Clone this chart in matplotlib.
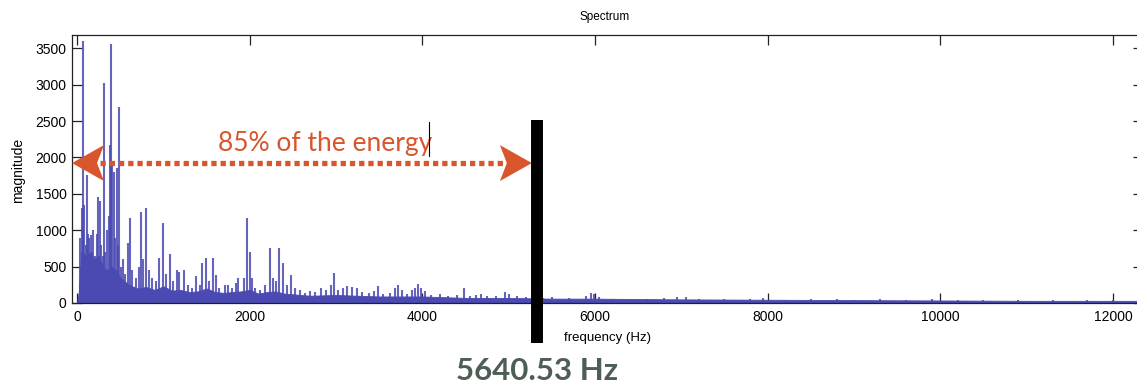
import matplotlib
matplotlib.use("Agg")
import matplotlib.pyplot as plt
from matplotlib.patches import Polygon
from matplotlib.transforms import Affine2D, ScaledTranslation

# ---------------- data ----------------
floor_freq = [0, 20, 50, 100, 150, 200, 250, 300, 350, 400, 450, 500, 550, 600,
              700, 800, 900, 1000, 1100, 1200, 1300, 1400, 1500, 1600, 1700,
              1800, 1900, 2000, 2100, 2200, 2300, 2400, 2500, 2700, 3000,
              3500, 4000, 4500, 5000, 5500, 6000, 7000, 8000, 9000, 10000,
              11000, 12000, 12350]
floor_mag = [0, 150, 700, 650, 700, 600, 650, 500, 450, 500, 450, 350, 300, 250,
             200, 220, 180, 230, 170, 180, 150, 160, 200, 150, 140,
             150, 160, 180, 130, 150, 160, 130, 120, 100, 110,
             90, 90, 70, 70, 60, 60, 50, 45, 40, 35,
             30, 30, 30]

peak_freq = [40, 55, 66, 75, 85, 100, 112, 125, 140, 158, 175, 190, 210, 230,
             247, 262, 280, 298, 313, 330, 350, 370, 382, 397, 410, 425, 440,
             460, 475, 490, 510, 530, 560, 590, 614, 640, 680, 720, 741, 765,
             799, 830, 870, 920, 950, 992, 1030, 1077, 1110, 1154, 1184, 1239,
             1280, 1330, 1378, 1420, 1451, 1490, 1530, 1579, 1610, 1650, 1714,
             1752, 1800, 1840, 1868, 1934, 1972, 2000, 2030, 2066, 2120, 2180,
             2235, 2270, 2310, 2343, 2390, 2430, 2478, 2520, 2580, 2640, 2700,
             2760, 2830, 2880, 2940, 2976, 3020, 3080, 3130, 3180, 3240, 3300,
             3380, 3440, 3485, 3550, 3620, 3680, 3717, 3760, 3820, 3880, 3920,
             3949, 3990, 4030, 4100, 4200, 4300, 4400, 4481, 4550, 4620, 4680,
             4750, 4850, 4956, 5000, 5100, 5200, 5300, 5400, 5500, 5600, 5700,
             5800, 5900, 5950, 5990, 6050, 6200, 6400, 6600, 6800, 6950, 7050,
             7200, 7500, 7800, 7950, 8200, 8500, 8800, 9000, 9300, 9600, 9900,
             10200, 10500, 10900, 11300, 11700, 12000]
peak_mag = [900, 1300, 3600, 1000, 1350, 800, 1760, 950, 900, 935, 700, 1000,
            650, 950, 1460, 1400, 800, 650, 3020, 700, 1000, 1200, 2170, 3555,
            1900, 1800, 900, 1855, 800, 2700, 500, 600, 400, 820, 1170, 450,
            350, 500, 1255, 600, 1310, 450, 350, 300, 620, 1100, 400, 670, 300,
            450, 420, 450, 250, 200, 365, 250, 550, 615, 300, 615, 380, 200,
            250, 250, 200, 270, 340, 340, 1165, 700, 350, 200, 180, 250, 755,
            350, 300, 755, 545, 250, 385, 200, 180, 140, 160, 150, 200, 180,
            250, 408, 180, 205, 230, 215, 200, 150, 140, 160, 240, 130, 140,
            200, 245, 180, 120, 180, 210, 260, 200, 170, 110, 120, 100, 110,
            210, 100, 110, 120, 90, 100, 150, 130, 90, 80, 90, 70, 80, 60, 70,
            60, 100, 140, 130, 80, 60, 60, 55, 65, 85, 80, 50, 55, 50, 70, 45,
            50, 50, 40, 55, 45, 50, 45, 40, 40, 35, 35, 40]

x_ticks = [0, 2000, 4000, 6000, 8000, 10000, 12000]
y_ticks = [0, 500, 1000, 1500, 2000, 2500, 3000, 3500]

cutoff_freq = 5327          # drawn position of the 85 % energy line
cutoff_label = "5640.53 Hz"
arrow_level = 1923
annot_text = "85% of the energy"

# ---------------- styling ----------------
BLUE = "#4a4ab2"
ORANGE = "#d9552b"
LABEL_GREEN = "#4e5e55"

plt.rcParams['font.family'] = ['Liberation Sans', 'DejaVu Sans']

fig = plt.figure(figsize=(11.37, 3.83), dpi=100)
W, H = 1137, 383
ax = fig.add_axes([72 / W, 80 / H, (1143 - 72) / W, 268 / H])

ax.fill_between(floor_freq, 0, floor_mag, color=BLUE, lw=0.6, zorder=2)
ax.vlines(peak_freq, 0, peak_mag, color=BLUE, lw=1.5, alpha=0.85, zorder=2)

ax.set_xlim(-58, 12348)
ax.set_ylim(0, 3683)
ax.set_xticks(x_ticks)
ax.set_yticks(y_ticks)
ax.tick_params(direction='in', top=True, right=True, length=7.2, width=0.9,
               labelsize=10, color='#222222', pad=4)
ax.tick_params(axis='x', pad=5)
for s in ax.spines.values():
    s.set_linewidth(0.9)
    s.set_color('#222222')

fig.text(605 / W, 1 - 17 / H, "Spectrum", ha='center', va='center', fontsize=8.5)
fig.text(608 / W, 1 - 338 / H, "frequency (Hz)", ha='center', va='center', fontsize=9.5)
fig.text(18 / W, 1 - 170 / H, "magnitude", ha='center', va='center',
         fontsize=10, rotation=90)

# black cutoff bar, extends below the axes
ax.plot([cutoff_freq, cutoff_freq], [-0.149, 0.683], color='black', lw=8.6,
        solid_capstyle='butt', transform=ax.get_xaxis_transform(),
        clip_on=False, zorder=6)

# dotted double arrow
xl = ax.get_xlim()[0]
px_hz = (12000 - 0) / (1113 - 77)
ax.plot([xl + 28 * px_hz, cutoff_freq - 26 * px_hz], [arrow_level, arrow_level],
        color=ORANGE, lw=3.8, dashes=(1.0, 0.75), dash_capstyle='butt',
        solid_capstyle='butt', zorder=5)


def head(xtip, ytip, direction):
    d = direction
    verts = [(0, 0), (d * 32, 18), (d * 25, 0), (d * 32, -18)]
    tr = Affine2D() + ScaledTranslation(xtip, ytip, ax.transData)
    p = Polygon(verts, closed=True, transform=tr, facecolor=ORANGE,
                edgecolor='none', zorder=5, clip_on=False)
    ax.add_patch(p)


head(xl, arrow_level, 1)
head(cutoff_freq - 5 * px_hz, arrow_level, -1)

ax.text(1633, 2090, annot_text, color=ORANGE, fontsize=19,
        family=['Lato', 'DejaVu Sans'], ha='left', va='baseline', zorder=5)
ax.plot([4076, 4076], [2020, 2487], color='black', lw=0.8, zorder=5)

fig.text(537 / W, 1 - 371 / H, cutoff_label, ha='center', va='center',
         fontsize=22.5, fontweight='bold', color=LABEL_GREEN,
         family=['Lato', 'DejaVu Sans'])

fig.savefig("out.png", dpi=100)
